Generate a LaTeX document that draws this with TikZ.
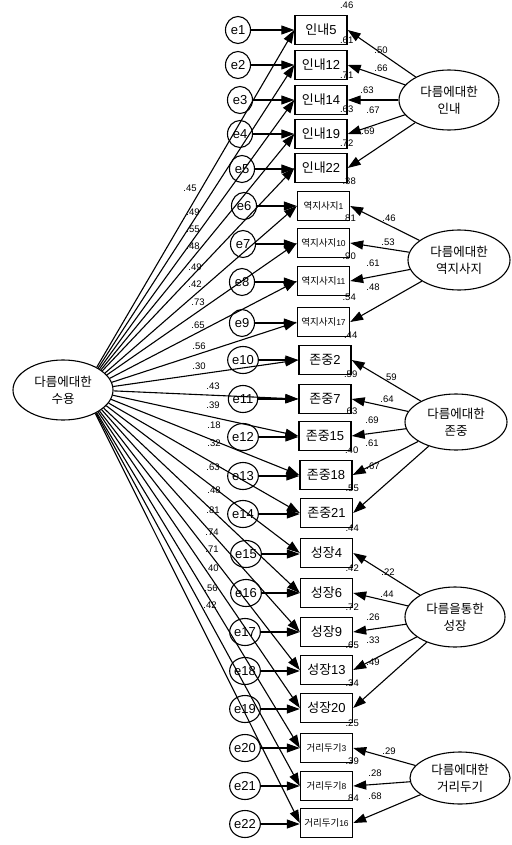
\documentclass[tikz,border=0pt]{standalone}
\usepackage{fontspec}
\setmainfont{Liberation Sans}
\newfontfamily\kr{Noto Sans CJK KR}
\usetikzlibrary{arrows.meta,shapes.geometric,calc}
\newcommand\boxlab[2]{{\kr #1}#2}
\newcommand\smalllab[2]{{\kr\fontsize{9.5}{10}\selectfont #1}{\fontsize{8.5}{9}\selectfont #2}}
\begin{document}
\begin{tikzpicture}[x=1pt,y=-1pt,
 arr/.style={-{Triangle[length=13pt,width=9pt]}, line width=1.1pt},
 obs/.style={draw, line width=1.4pt, minimum width=52pt, minimum height=29pt, inner sep=0pt, font=\fontsize{13}{14}\selectfont},
 err/.style={draw, ellipse, line width=1.1pt, minimum width=25pt, minimum height=27pt, inner sep=0pt, font=\fontsize{13}{14}\selectfont},
 lat/.style={draw, ellipse, line width=1.1pt, inner sep=0pt, align=center, font=\kr\fontsize{12.5}{17}\selectfont},
 num/.style={inner sep=0pt, font=\fontsize{9.5}{10}\selectfont}]
\useasboundingbox (0,0) rectangle (511,845);

% observed variables
\node[obs] (b1) at (321,30) {\boxlab{인내}{5}};
\node[obs] (b2) at (321,65) {\boxlab{인내}{12}};
\node[obs] (b3) at (321,100) {\boxlab{인내}{14}};
\node[obs] (b4) at (321,134) {\boxlab{인내}{19}};
\node[obs] (b5) at (321,168) {\boxlab{인내}{22}};
\node[obs] (b6) at (323.5,206) {\smalllab{역지사지}{1}};
\node[obs] (b7) at (323.5,243) {\smalllab{역지사지}{10}};
\node[obs] (b8) at (323.5,281) {\smalllab{역지사지}{11}};
\node[obs] (b9) at (323.5,322) {\smalllab{역지사지}{17}};
\node[obs] (b10) at (325,360) {\boxlab{존중}{2}};
\node[obs] (b11) at (325,399) {\boxlab{존중}{7}};
\node[obs] (b12) at (325,436) {\boxlab{존중}{15}};
\node[obs] (b13) at (326,475) {\boxlab{존중}{18}};
\node[obs] (b14) at (326.5,513) {\boxlab{존중}{21}};
\node[obs] (b15) at (326.5,553) {\boxlab{성장}{4}};
\node[obs] (b16) at (326.5,593) {\boxlab{성장}{6}};
\node[obs] (b17) at (326.5,632) {\boxlab{성장}{9}};
\node[obs] (b18) at (326.5,670) {\boxlab{성장}{13}};
\node[obs] (b19) at (326.5,708) {\boxlab{성장}{20}};
\node[obs] (b20) at (326.5,748) {\smalllab{거리두기}{3}};
\node[obs] (b21) at (326.5,786) {\smalllab{거리두기}{8}};
\node[obs] (b22) at (326.5,823) {\smalllab{거리두기}{16}};

% latent variables
\node[lat, minimum width=100pt, minimum height=60pt] (F) at (63,390) {다름에대한\\수용};
\node[lat, minimum width=100pt, minimum height=60pt] (L1) at (449,100) {다름에대한\\인내};
\node[lat, minimum width=102pt, minimum height=60pt] (L2) at (459,260) {다름에대한\\역지사지};
\node[lat, minimum width=102pt, minimum height=56pt] (L3) at (456,422) {다름에대한\\존중};
\node[lat, minimum width=100pt, minimum height=60pt] (L4) at (455,617) {다름을통한\\성장};
\node[lat, minimum width=100pt, minimum height=52pt] (L5) at (460,778) {다름에대한\\거리두기};

% error terms
\foreach \i/\x/\y in {1/238/30,2/238/65,3/240/100,4/240/134,5/242/169,6/244/206,7/243/244,8/242/282,9/242/323,10/243/360,11/243/399,12/243/437,13/243/476,14/243/514,15/246/554,16/246/593,17/245/632,18/245/671,19/245/709,20/245/748,21/245/786,22/245/824}{
  \node[err] (e\i) at (\x,\y) {e\i};
  \draw[arr] (e\i) -- (b\i.west |- e\i);
}

% general factor loadings
\foreach \i/\a/\lab/\lx/\ly in {1/34.1/.45/190/188,2/32.5/.49/193/212,3/30.6/.55/193/229,4/28.5/.48/193/246,5/26.0/.49/195/267,6/22.9/.42/195/284,7/19.2/.73/198/302,8/14.9/.65/198/325,9/9.7/.56/199/346,10/4.4/.30/199/366,11/-1.3/.43/213/386,12/-6.6/.39/213/405,13/-11.9/.18/214/425,14/-16.6/.32/214/443,15/-20.8/.63/213/467,16/-24.5/.48/214/490,17/-27.5/.81/213/510,18/-30.0/.74/212/532,19/-32.1/.71/212/549,20/-34.0/.40/212/568,21/-35.6/.56/211/588,22/-36.9/.42/210/605}{
  \draw[arr] (F.\a) -- (b\i.west);
  \node[num] at (\lx,\ly) {\lab};
}

% specific factor loadings
\foreach \i/\lab/\lx/\ly in {1/.50/381/50,2/.66/381/68,3/.63/367/90,4/.67/373/110,5/.69/368/131}{
  \draw[arr] (L1) -- (b\i.east);
  \node[num] at (\lx,\ly) {\lab};
}
\foreach \i/\lab/\lx/\ly in {6/.46/389/218,7/.53/388/242,8/.61/373/263,9/.48/373/287}{
  \draw[arr] (L2) -- (b\i.east);
  \node[num] at (\lx,\ly) {\lab};
}
\foreach \i/\lab/\lx/\ly in {10/.59/390/377,11/.64/387/399,12/.69/372/420,13/.61/372/443,14/.67/373/466}{
  \draw[arr] (L3) -- (b\i.east);
  \node[num] at (\lx,\ly) {\lab};
}
\foreach \i/\lab/\lx/\ly in {15/.22/388/572,16/.44/387/594,17/.26/373/617,18/.33/373/640,19/.49/373/662}{
  \draw[arr] (L4) -- (b\i.east);
  \node[num] at (\lx,\ly) {\lab};
}
\foreach \i/\lab/\lx/\ly in {20/.29/389/751,21/.28/375/773,22/.68/375/796}{
  \draw[arr] (L5) -- (b\i.east);
  \node[num] at (\lx,\ly) {\lab};
}

% squared multiple correlations
\foreach \i/\r in {1/.46,2/.61,3/.71,4/.63,5/.72,6/.38,7/.81,8/.90,9/.54,10/.44,11/.59,12/.63,13/.40,14/.55,15/.44,16/.42,17/.72,18/.65,19/.34,20/.25,21/.39,22/.84}{
  \node[num] at ([xshift=-1pt,yshift=10pt]b\i.north east) {\r};
}
\end{tikzpicture}
\end{document}
